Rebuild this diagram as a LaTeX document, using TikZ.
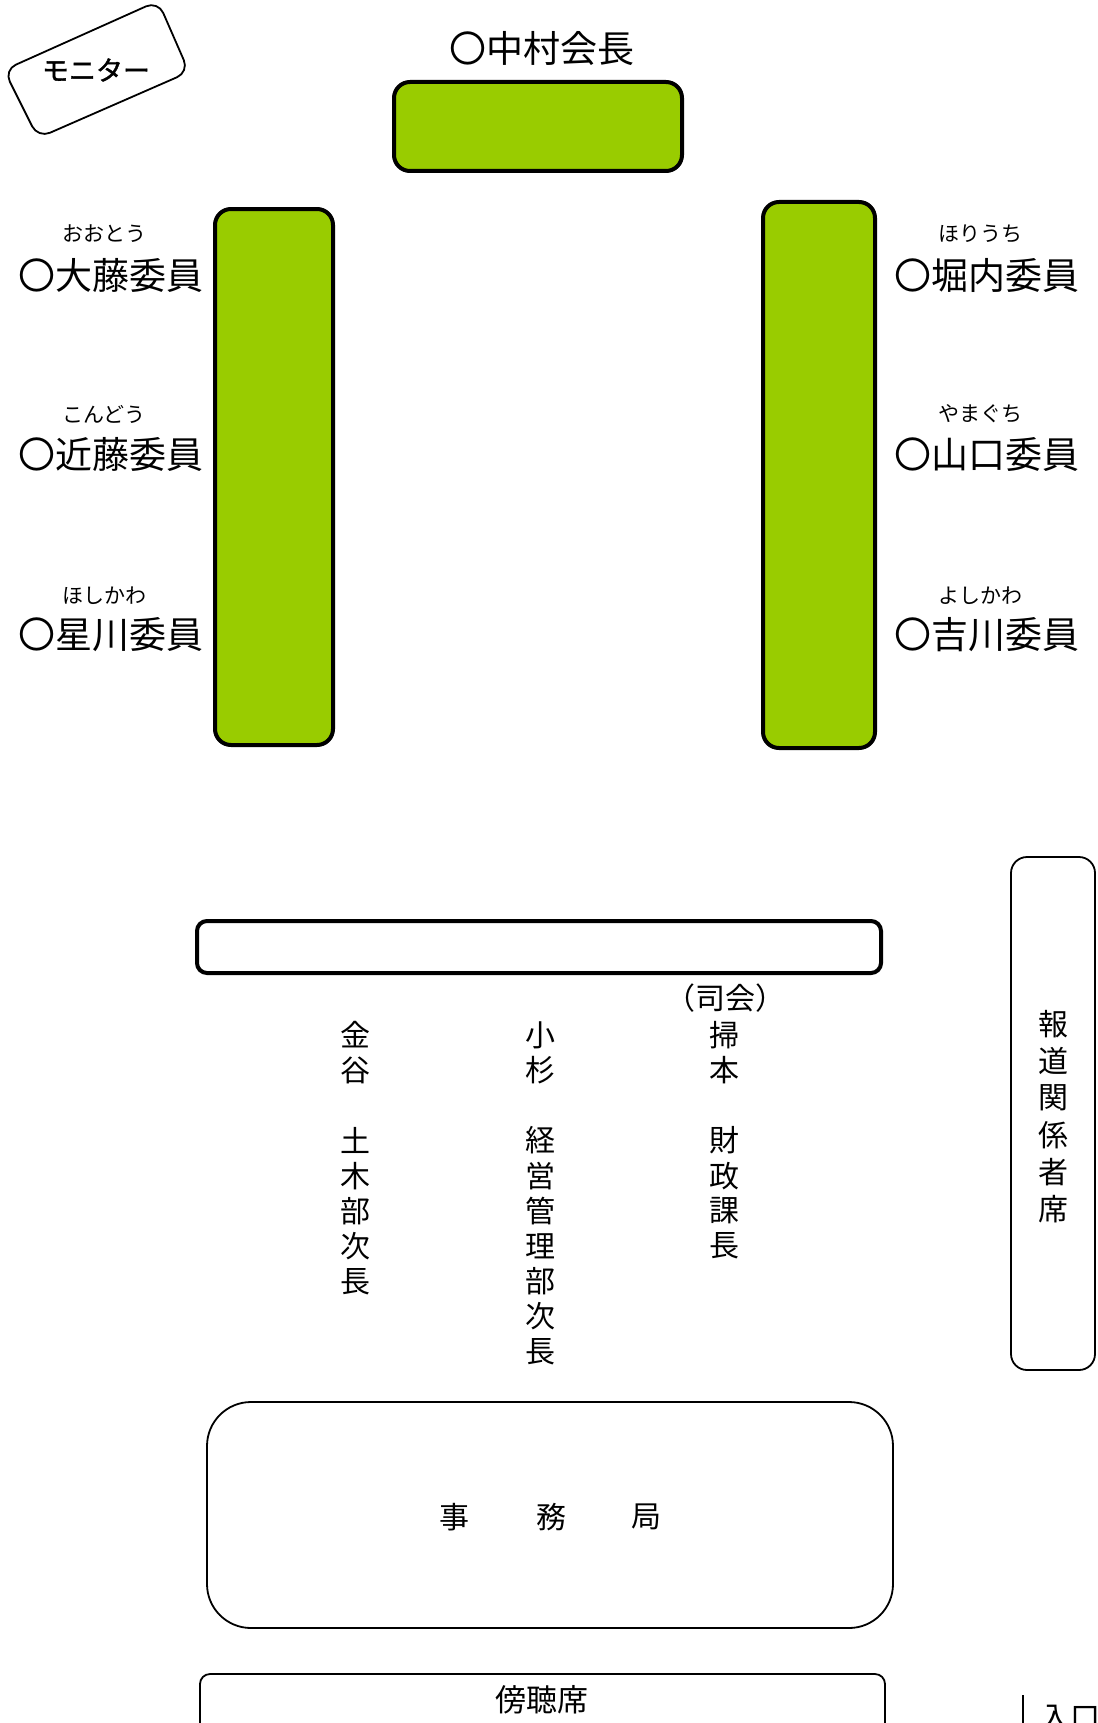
\documentclass[tikz,border=0pt]{standalone}
\usepackage{fontspec}
\setmainfont{Noto Sans CJK JP}
\definecolor{tablegreen}{HTML}{99CC00}
\begin{document}
\begin{tikzpicture}[x=1pt,y=-1pt,
  greentable/.style={draw=black, line width=4pt, fill=tablegreen, rounded corners=16pt, inner sep=0pt},
  fronttable/.style={draw=black, line width=4pt, fill=white, rounded corners=10pt, inner sep=0pt},
  area/.style={draw=black, line width=1.8pt, inner sep=0pt},
  namelbl/.style={font=\fontsize{37}{37}\selectfont, inner sep=0pt},
  kana/.style={font=\fontsize{21}{21}\selectfont, inner sep=0pt},
  vch/.style={font=\fontsize{30}{30}\selectfont, inner sep=0pt},
]
\useasboundingbox (0,0) rectangle (1097,1723);
\clip (0,0) rectangle (1097,1723);

% monitor
\draw[line width=1.8pt, rounded corners=13pt] (4,70) -- (158,1) -- (189,72) -- (38,138) -- cycle;
\node[font=\fontsize{27}{27}\selectfont\addfontfeature{FakeBold=1.5}, inner sep=0pt] (monitor) at (96,70) {モニター};

% chairman
\node[greentable, minimum width=288pt, minimum height=89pt] (chair) at (538,126.5) {};
\node[namelbl] (chairlbl) at (542,48) {〇中村会長};

% side tables
\node[greentable, minimum width=118pt, minimum height=536pt] (ltable) at (274,477) {};
\node[greentable, minimum width=112pt, minimum height=546pt] (rtable) at (819,475) {};

% left members
\node[kana] (k1) at (104,234) {おおとう};
\node[namelbl] (m1) at (110.5,275) {〇大藤委員};
\node[kana] (k2) at (104,414) {こんどう};
\node[namelbl] (m2) at (110.5,454) {〇近藤委員};
\node[kana] (k3) at (104,596) {ほしかわ};
\node[namelbl] (m3) at (110.5,635) {〇星川委員};

% right members
\node[kana] (k4) at (980,234) {ほりうち};
\node[namelbl] (m4) at (986.5,275) {〇堀内委員};
\node[kana] (k5) at (980,414) {やまぐち};
\node[namelbl] (m5) at (986.5,454) {〇山口委員};
\node[kana] (k6) at (980,596) {よしかわ};
\node[namelbl] (m6) at (986.5,635) {〇吉川委員};

% front table
\node[fronttable, minimum width=684pt, minimum height=52pt] (front) at (539,947) {};
\node[vch] (shikai) at (725,998) {（司会）};

\foreach \i/\c in {1/金,2/谷,4/土,5/木,6/部,7/次,8/長}
  \node[vch] (a\i) at (355,{1035+35.2*(\i-1)}) {\c};
\foreach \i/\c in {1/小,2/杉,4/経,5/営,6/管,7/理,8/部,9/次,10/長}
  \node[vch] (b\i) at (540,{1035+35.2*(\i-1)}) {\c};
\foreach \i/\c in {1/掃,2/本,4/財,5/政,6/課,7/長}
  \node[vch] (c\i) at (724,{1035+35.2*(\i-1)}) {\c};

% press
\node[area, rounded corners=16pt, minimum width=84pt, minimum height=513pt] (press) at (1053,1113.5) {};
\foreach \i/\c in {1/報,2/道,3/関,4/係,5/者,6/席}
  \node[vch] (p\i) at (1053,{1024+37*(\i-1)}) {\c};

% secretariat
\node[area, rounded corners=44pt, minimum width=686pt, minimum height=226pt] (jimu) at (550,1515) {};
\node[vch] (j1) at (454,1517) {事};
\node[vch] (j2) at (551,1517) {務};
\node[vch] (j3) at (646,1517) {局};

% gallery
\node[area, rounded corners=10pt, minimum width=685pt, minimum height=80pt] (gallery) at (542.5,1714) {};
\node[font=\fontsize{31}{31}\selectfont, inner sep=0pt] (gallerylbl) at (542,1700) {傍聴席};

% entrance
\coordinate (doortop) at (1023,1695);
\coordinate (doorbot) at (1023,1730);
\draw[line width=2.5pt] (doortop) -- (doorbot);
\node[font=\fontsize{30}{30}\selectfont, inner sep=0pt, anchor=west] (entrance) at (1040,1718) {入口};
\end{tikzpicture}
\end{document}
